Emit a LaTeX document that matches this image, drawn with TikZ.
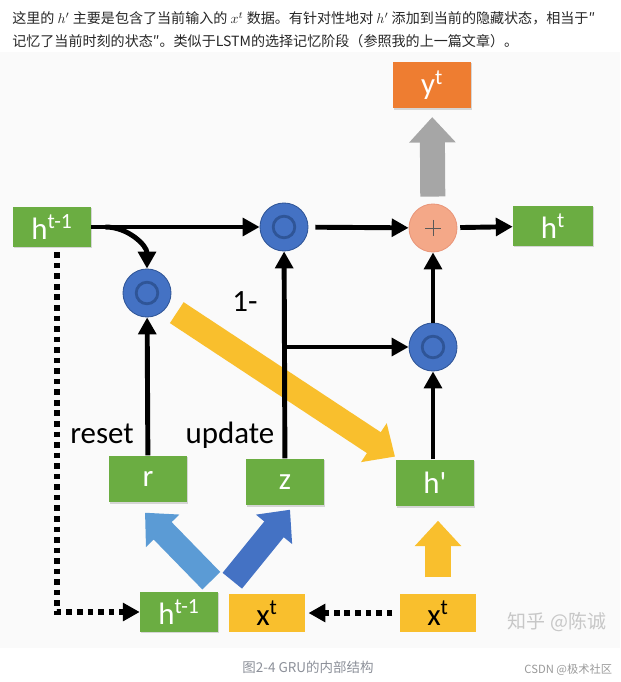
\documentclass[tikz,border=0pt]{standalone}
\usepackage{fontspec}
\setmainfont{Carlito}
\newfontfamily\cjk{Noto Sans CJK SC}
\usetikzlibrary{arrows.meta,positioning,calc,shadows}
\definecolor{gruGreen}{HTML}{6BAD42}
\definecolor{gruYellow}{HTML}{F9BF2D}
\definecolor{gruOrange}{HTML}{EE7D31}
\definecolor{gruBlue}{HTML}{4472C4}
\definecolor{gruBlueEdge}{HTML}{2F5597}
\definecolor{gruLight}{HTML}{5B9BD5}
\definecolor{gruSalmon}{HTML}{F4A888}
\definecolor{gruSalmonEdge}{HTML}{E9967A}
\definecolor{gruGray}{HTML}{A6A6A6}
\definecolor{txtGray}{HTML}{8C9099}
\tikzset{
  cellfont/.style={font=\fontsize{22}{24}\selectfont},
  gbox/.style={cellfont, fill=gruGreen, text=white, minimum width=1.95cm, minimum height=1cm, inner sep=1pt,
    drop shadow={shadow xshift=0.6pt, shadow yshift=-1pt, opacity=0.3}},
  gate/.style={minimum height=1.17cm},
  ybox/.style={cellfont, fill=gruYellow, text=black, minimum width=1.92cm, minimum height=0.95cm, inner sep=1pt},
  obox/.style={cellfont, fill=gruOrange, text=white, minimum width=1.95cm, minimum height=1.17cm, inner sep=1pt,
    drop shadow={shadow xshift=0.6pt, shadow yshift=-1pt, opacity=0.3}},
  mul/.style={circle, draw=gruBlueEdge, line width=0.6pt, fill=gruBlue, minimum size=1.2cm, inner sep=0pt,
    path picture={
      \draw[line width=2pt] (path picture bounding box.center) circle (0.27cm);
      \fill (path picture bounding box.center) circle (0.09cm);}},
  addc/.style={circle, draw=gruSalmonEdge, line width=0.6pt, fill=gruSalmon, minimum size=1.2cm, inner sep=0pt,
    path picture={
      \draw[line width=0.7pt, black!65] (path picture bounding box.center) ++(-8,0) -- ++(16,0)
        (path picture bounding box.center) ++(0,-8) -- ++(0,16);}},
  lbl/.style={cellfont, inner sep=0pt},
  arr/.style={line width=3.5pt, -{Triangle[length=12pt,width=12.5pt]}},
  dotarr/.style={line width=4pt, dash pattern=on 4pt off 3.5pt, -{Triangle[length=12pt,width=12.5pt]}},
  blk/.style={line width=17.8pt, -{Triangle[length=18pt,width=32pt]}},
  hdr/.style={font=\cjk\fontsize{10}{12}\selectfont, text=black!85, anchor=west, inner sep=0pt}
}
\begin{document}
\begin{tikzpicture}[x=0.025cm,y=-0.025cm]
\useasboundingbox (0,0) rectangle (620,682);
\fill[black!2] (0,52) rectangle (620,648);
% header text
\node[hdr] (hd1) at (12,18) {这里的 $h'$ 主要是包含了当前输入的 $x^t$ 数据。有针对性地对 $h'$ 添加到当前的隐藏状态，相当于″};
\node[hdr] (hd2) at (12,41) {记忆了当前时刻的状态″。类似于LSTM的选择记忆阶段（参照我的上一篇文章）。};
% cells and gates
\node[gbox] (tl) at (52,227) {h\textsuperscript{t-1}};
\node[mul] (to) at (284,227) {};
\node[addc] (pl) at (433,228) {};
\node[gbox, minimum width=2cm] (ht) at (553,226) {h\textsuperscript{t}};
\node[obox] (yt) at (432,85) {y\textsuperscript{t}};
\node[mul] (lo) at (147,293) {};
\node[mul] (ro) at (433,347) {};
\node[gbox, gate] (r) at (148,479) {r};
\node[gbox, gate] (z) at (285,482) {z};
\node[gbox, gate] (hp) at (435,483) {h\textquotesingle};
\node[gbox] (hb) at (179,612) {h\textsuperscript{t-1}};
\node[ybox] (xm) at (267,613) {x\textsuperscript{t}};
\node[ybox] (xr) at (438,613) {x\textsuperscript{t}};
\node[lbl, anchor=base] (lr) at (102,443) {reset};
\node[lbl, anchor=base] (lu) at (230,443) {update};
\node[lbl] (lm) at (245,302) {1-};
\coordinate (fork) at ($(hb.north east)!0.5!(xm.north west)$);
% caption and marks
\node[font=\cjk\fontsize{9.6}{11}\selectfont, text=txtGray] (cap) at (308,667) {图2-4 GRU的内部结构};
\node[font=\cjk\fontsize{13.5}{15}\selectfont, text=black!22, anchor=east] (wm) at (611,622) {知乎 @陈诚};
\node[font=\cjk\fontsize{8}{9}\selectfont, text=black!40, anchor=east] (csdn) at (617,670) {CSDN @极术社区};
% block arrows
\draw[blk, gruGray, shorten <=5pt, shorten >=6pt] (pl) -- (yt);
\draw[blk, gruYellow, shorten <=8pt, shorten >=3.5pt] (lo) -- (hp);
\draw[blk, gruLight] ($(fork)+(-12,-12)$) -- ($(r.south)+(-3,10)$);
\draw[blk, gruBlue] ($(fork)+(9,-12)$) -- ($(z.south)+(5,4)$);
\draw[blk, gruYellow, shorten <=11.7pt, shorten >=10pt] (xr.north) -- (xr.north |- hp.south);
% black connectors
\draw[arr] (tl) -- (to);
\draw[arr] ($(tl.east)+(14,0)$) to[out=0,in=90] (lo.north);
\draw[arr, shorten <=5pt] (to) -- (pl);
\draw[arr, shorten <=2pt] (pl) -- (ht);
\draw[arr] (ro) -- (pl);
\draw[arr] (r) -- (lo);
\draw[arr] (z) -- (to);
\draw[arr] (z.north |- ro) -- (ro);
\draw[arr] (ro.south |- hp.north) -- (ro);
\draw[dotarr] ($(tl.south)+(5,5)$) |- (hb);
\draw[dotarr, shorten <=5pt, shorten >=2pt] (xr) -- (xm);
\end{tikzpicture}
\end{document}
